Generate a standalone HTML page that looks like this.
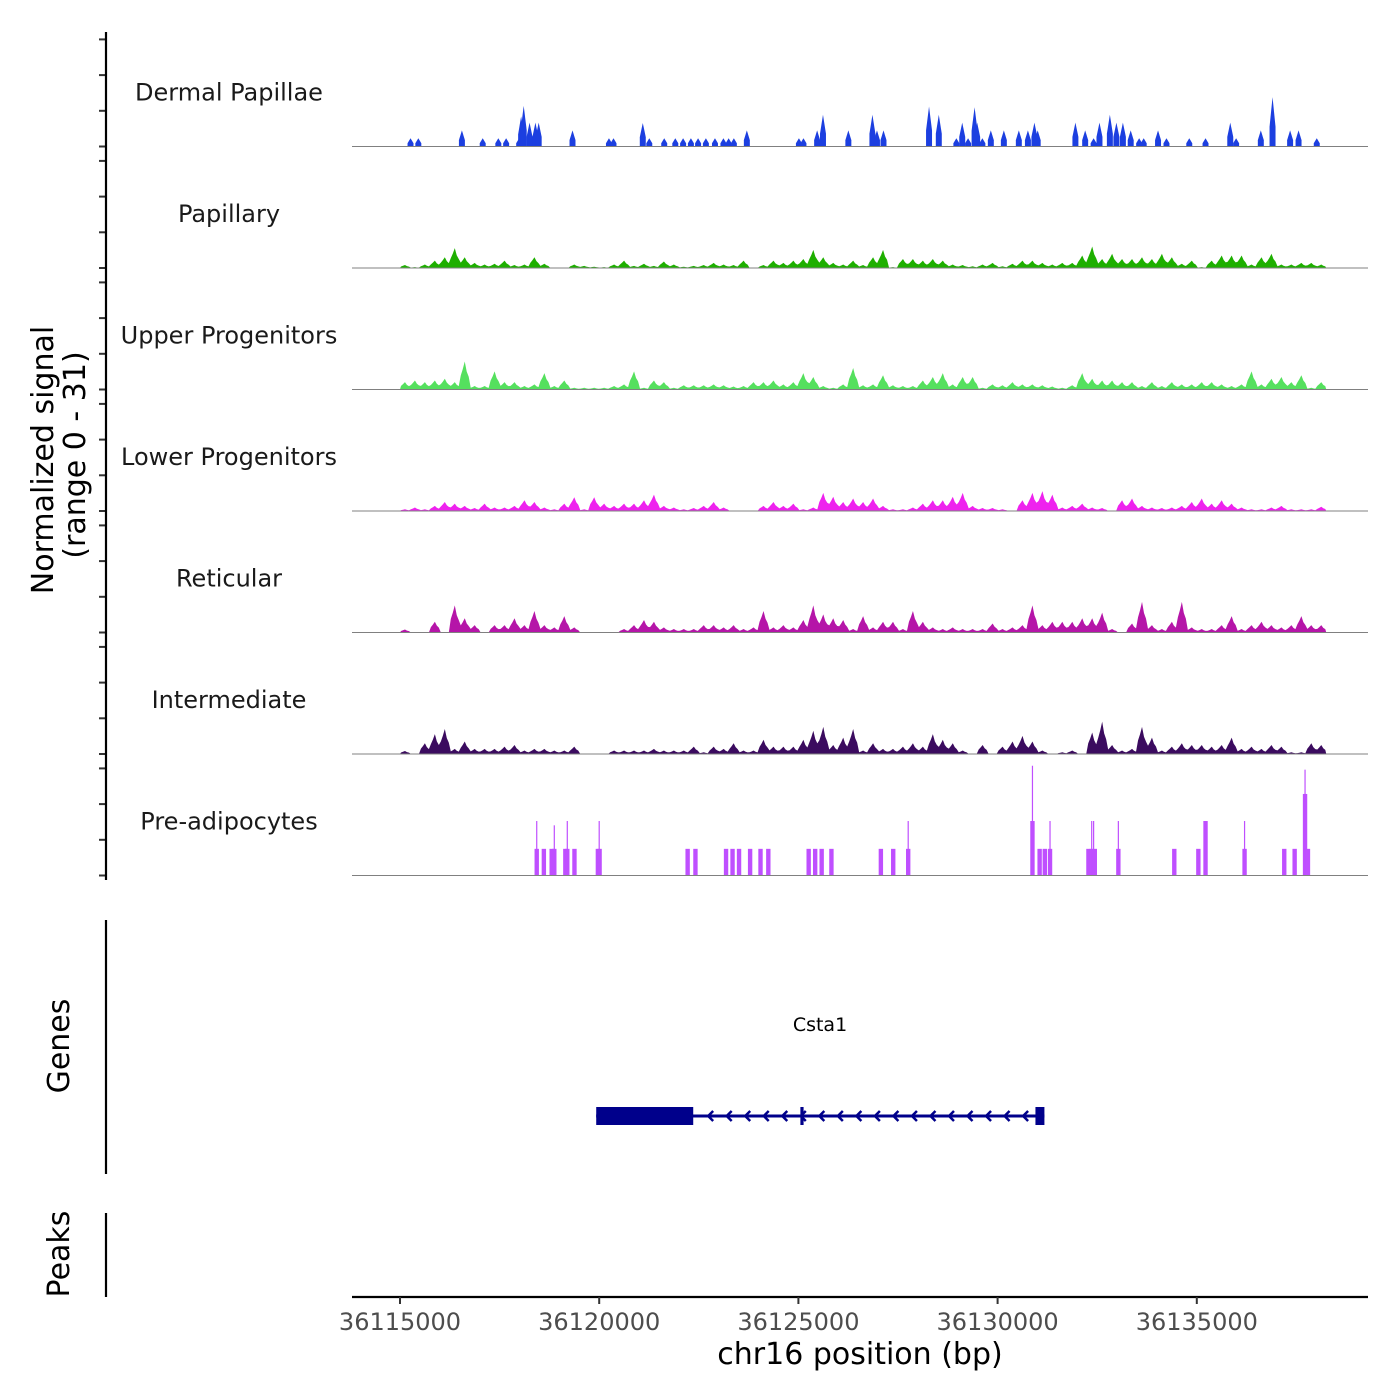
<!DOCTYPE html>
<html><head><meta charset="utf-8">
<style>
html,body{margin:0;padding:0;background:#fff;}
svg{display:block;font-family:"DejaVu Sans","Liberation Sans",sans-serif;}
</style></head>
<body>
<svg id="chart" width="1400" height="1400" viewBox="0 0 1400 1400" xmlns="http://www.w3.org/2000/svg">
<g id="tracks"></g>
<g id="axes">
  <line x1="106" y1="32" x2="106" y2="880" stroke="#000" stroke-width="2.2"/>
  <text transform="translate(53,460) rotate(-90)" text-anchor="middle" font-size="30" fill="#000">Normalized signal</text>
  <text transform="translate(85,455) rotate(-90)" text-anchor="middle" font-size="30" fill="#000">(range 0 - 31)</text>
  <line x1="106" y1="920" x2="106" y2="1174" stroke="#000" stroke-width="2.2"/>
  <text transform="translate(69,1046) rotate(-90)" text-anchor="middle" font-size="30" fill="#000">Genes</text>
  <line x1="106" y1="1213" x2="106" y2="1297" stroke="#000" stroke-width="2.2"/>
  <text transform="translate(69,1254) rotate(-90)" text-anchor="middle" font-size="30" fill="#000">Peaks</text>
  <line x1="352" y1="1297" x2="1368" y2="1297" stroke="#000" stroke-width="2.2"/>
  <text x="860" y="1364" text-anchor="middle" font-size="30" fill="#000">chr16 position (bp)</text>
</g>
<g id="genes"></g>
</svg>
<script>
const NS = "http://www.w3.org/2000/svg";
// ---- data ----
const binStart = 36115000;
const binSize = 250;
const trackNames = ["Dermal Papillae","Papillary","Upper Progenitors","Lower Progenitors","Reticular","Intermediate","Pre-adipocytes"];
const trackColors = ["#1c3fe0","#1eaf00","#55e05e","#ee22ee","#b515a8","#3b0b5f","#bf4fff"];
const xTicks = [36115000,36120000,36125000,36130000,36135000];
const dpPeaks = [[36115264,2.1],[36115460,2.1],[36116554,4.1],[36117076,2.1],[36117468,2.1],[36117664,2.1],[36117991,2.1],[36118040,7.7],[36118105,10.4],[36118252,6.1],[36118399,6.1],[36118481,6.1],[36119330,4.1],[36120245,2.1],[36120359,2.1],[36121094,6.0],[36121257,2.1],[36121632,2.1],[36121910,2.1],[36122106,2.1],[36122302,2.1],[36122482,2.1],[36122678,2.1],[36122906,2.1],[36123118,2.1],[36123249,2.1],[36123380,2.1],[36123706,4.1],[36125013,2.1],[36125127,2.1],[36125470,4.1],[36125617,8.1],[36126254,4.1],[36126858,8.1],[36126972,4.1],[36127136,4.1],[36128279,10.2],[36128524,8.1],[36128965,2.1],[36129112,6.1],[36129259,2.1],[36129422,10.0],[36129487,6.1],[36129618,2.1],[36129830,4.1],[36130157,4.1],[36130533,4.1],[36130761,4.1],[36130924,6.1],[36131006,4.1],[36131953,6.1],[36132198,4.1],[36132410,2.1],[36132557,6.1],[36132818,8.1],[36132982,6.1],[36133145,6.1],[36133341,4.1],[36133553,2.1],[36133667,2.1],[36134027,4.1],[36134239,2.1],[36134811,2.1],[36135219,2.1],[36135840,6.1],[36135987,2.1],[36136607,4.1],[36136901,12.6],[36137342,4.1],[36137554,4.1],[36138011,2.1]];
const papillary = [0.7,0.2,0.8,1.7,2.5,4.6,2.5,1.2,0.8,1,1.7,0.7,0.8,2.5,1,0,0,0.8,0.5,0.3,0.2,0.8,1.7,0.5,1,0.5,1.5,0.8,0.3,0.5,0.7,1.2,0.8,0.7,1.7,0,0.7,1.7,1.2,1.7,2.1,4.2,2.5,1.2,0.8,1.7,0.7,2.5,4.2,0.2,2.1,2.1,1.7,2.1,1.7,0.8,0.7,0.4,0.8,1.2,0.4,1,1.7,1.7,1.2,0.8,1.2,1.2,2.9,5,2.1,3.3,2.1,2.1,2.5,2.1,3.3,2.5,1,1.7,0.2,1.7,2.9,2.9,2.9,0.8,2.5,3.3,0.8,0.8,1.2,1.2,0.8];
const upperProg = [1.7,2.1,1.7,2.1,2.5,1.7,6.5,0.8,0.8,4.2,1.7,1.7,0.8,1.2,3.8,0.8,2.1,0.4,0.4,0.4,0.4,0.8,1.2,4.2,0.4,2.1,1.7,0.4,1,1,1,1.2,1,0.7,0.8,1.7,1.7,2.1,1.2,1.7,3.8,2.9,0.8,0.4,1.2,5,1,1.2,3.3,1,0.8,0.8,2.1,2.9,3.8,1.2,2.9,2.9,0.4,1.2,1,1.7,1.2,1.2,1,0.7,0.4,1,3.8,2.5,2.1,2.1,1.7,1.7,0.8,1.7,0.8,1.7,1.2,1.2,1.7,1.7,1.2,0.8,1.2,4.2,1.2,2.5,2.9,1.7,3.3,0.4,1.7];
const lowerProg = [0.4,0.8,0.4,1.2,2.1,1.7,1.2,0.7,1.7,0.8,0.8,1.2,2.5,2.1,0.8,0.4,1.7,3.2,0.4,3.2,1.7,1.2,1.7,1.7,2.5,3.8,1.2,0.8,0.4,0.7,1.2,2.1,0.8,0,0,0,1.2,2.1,1.2,1.7,0.4,0.8,4.2,3.3,2.1,2.9,2.1,2.9,1.2,0.4,0.4,0.8,1.7,2.5,2.5,3.3,4.2,1.2,0.7,0.7,0.4,0,2.5,4.2,4.6,3.8,0.8,1.2,1.7,0.8,0.7,0,2.5,2.9,1.2,0.8,0.7,0.8,1.2,2.1,2.9,1.7,2.5,1.7,0.8,0.4,0.4,0.8,1.2,0.4,0.4,0.4,1];
const reticular = [0.7,0,0,2.5,0,6.3,3.3,1.7,0,1.7,1.7,3.3,1.7,5,1.7,1.2,3.8,1.2,0,0,0,0,0.8,1.7,2.9,2.5,1.2,0.8,0.8,0.8,1.7,1.7,1.2,1.7,0.8,1.2,5,1.2,1.7,1.2,2.9,6.3,4.2,3.3,2.9,0.8,3.8,1.2,2.5,2.5,0.8,5,2.5,1.2,0.8,1.2,0.8,0.8,0.8,2.1,0.8,1.2,1.7,6.3,1.7,2.5,2.5,2.5,3.3,3.3,4.6,0.8,0,2.1,7.1,1.7,0.8,2.5,7.1,1.2,0.8,0.8,1.7,3.8,0.8,1.7,2.5,1.7,1.2,1.7,3.8,1.7,1.7];
const intermediate = [0.7,0,2.5,4.6,5.8,1.2,2.9,1.2,1.2,1.2,1.7,2.1,0.8,1.2,1.2,0.8,0.8,1.7,0,0,0,0.8,0.8,0.8,0.8,1.2,0.8,0.8,0.8,1.7,0.4,1.7,1.2,2.5,0.8,0.8,3.3,1.7,1.7,1.7,3.3,5.4,6.3,2.1,3.8,5.8,0.8,2.5,1.2,1.2,1.7,2.5,1.7,4.6,3.3,2.5,0.8,0,2.1,0,1.7,2.9,4.2,2.9,0.8,0,0.4,0.8,0,5,7.5,2.1,0.8,1.2,6.3,3.8,0.8,1.7,2.5,2.1,2.1,1.7,2.1,3.8,1.2,1.7,1.2,2.1,1.7,0.4,0.4,2.5,2.1];
const preBlocks = [[36118432,6.8],[36118611,6.8],[36118807,6.8],[36118873,6.8],[36119150,6.8],[36119199,6.8],[36119379,6.8],[36119967,6.8],[36120010,6.8],[36122220,6.8],[36122416,6.8],[36123184,6.8],[36123347,6.8],[36123510,6.8],[36123788,6.8],[36124049,6.8],[36124245,6.8],[36125258,6.8],[36125421,6.8],[36125584,6.8],[36125829,6.8],[36127070,6.8],[36127380,6.8],[36127756,6.8],[36130875,13.9],[36131055,6.8],[36131185,6.8],[36131316,6.8],[36132280,6.8],[36132362,6.8],[36132440,6.8],[36133031,6.8],[36134435,6.8],[36135039,6.8],[36135219,13.9],[36136199,6.8],[36137195,6.8],[36137456,6.8],[36137717,20.8],[36137790,6.8]];
const preSpikes = [[36118432,13.9],[36118873,12.8],[36119199,13.9],[36120000,13.9],[36127756,13.9],[36130875,28],[36131316,13.9],[36132362,13.9],[36132410,13.9],[36133031,13.9],[36136199,13.9],[36137717,27]];
const geneName = "Csta1";
const geneStart = 36119925, geneEnd = 36131175;
const geneExons = [[36119925,36122360],[36125050,36125130],[36130950,36131175]];

// ---- scales ----
const X0 = 36115000, PX0 = 400, PXPERBP = 199.2/5000;
const xs = bp => PX0 + (bp - X0) * PXPERBP;
const baselines = [146.5,268,389.5,511,632.5,754,875.5];
const UNIT = 3.92;
const ys = (t, v) => baselines[t] - v * UNIT;

const tracks = document.getElementById('tracks');
function mk(tag, attrs, parent){ const e=document.createElementNS(NS,tag); for(const k in attrs) e.setAttribute(k,attrs[k]); (parent||tracks).appendChild(e); return e; }

for (let t=0;t<7;t++){
  for (let k=0;k<4;k++){
    const y = baselines[t] - k*35.7;
    const tk = mk('line',{x1:99,x2:106,y1:y,y2:y,stroke:'#333','stroke-width':2});
    
    
  }
}

function binnedArea(t, vals){
  let d = `M${xs(binStart)},${baselines[t]}`;
  vals.forEach((v,i)=>{
    const xa = xs(binStart + i*binSize), xb = xs(binStart + (i+1)*binSize);
    d += ` L${xa+1},${ys(t,v*0.55)} L${xa+3},${ys(t,v*0.8)} L${(xa+xb)/2},${ys(t,v*1.1)} L${xb-3},${ys(t,v*0.7)} L${xb-1},${ys(t,v*0.5)}`;
  });
  d += ` L${xs(binStart + vals.length*binSize)},${baselines[t]} Z`;
  const p = mk('path',{d, fill:trackColors[t]});
  
  
}
function blocks(t, list, w, name){
  list.forEach(([bp,v])=>{
    const r = mk('rect',{x:xs(bp - w/2), y:ys(t,v), width:Math.max(1,w*PXPERBP), height:v*UNIT, fill:trackColors[t]});
    
    
  });
}
function spikes(t, list, w, name){
  list.forEach(([bp,v])=>{
    const x = xs(bp), hw = w*PXPERBP/2, b = baselines[t];
    const p = mk('path',{d:`M${x-hw},${b} L${x-hw},${ys(t,v*0.4)} L${x},${ys(t,v)} L${x+hw},${ys(t,v*0.4)} L${x+hw},${b} Z`, fill:trackColors[t]});
    
    
  });
}

trackNames.forEach((n,t)=>{
  const lbl = mk('text',{x:229,y:baselines[t]-46,'text-anchor':'middle','font-size':24,fill:'#1a1a1a'});
  lbl.textContent = n;
  
  
});

spikes(0, dpPeaks, 150, 'dp-peak');
[papillary,upperProg,lowerProg,reticular,intermediate].forEach((a,i)=>binnedArea(i+1,a));
blocks(6, preBlocks, 110, 'preadipocyte-block');
blocks(6, preSpikes, 30, 'preadipocyte-spike');

baselines.forEach((b,t)=>{
  const l = mk('line',{x1:352,x2:1368,y1:b,y2:b,stroke:'#808080','stroke-width':1.1});
  
  
});

const axes = document.getElementById('axes');
xTicks.forEach(v=>{
  const x = xs(v);
  const tk = mk('line',{x1:x,x2:x,y1:1297,y2:1304,stroke:'#333','stroke-width':2},axes);
  
  
  const tl = mk('text',{x:x,y:1330,'text-anchor':'middle','font-size':24,fill:'#4d4d4d'},axes);
  tl.textContent = v;
  
  
});

const g = document.getElementById('genes');
const gy = 1116;
const gl = mk('line',{x1:xs(geneStart),x2:xs(geneEnd),y1:gy,y2:gy,stroke:'#00008b','stroke-width':3},g);


geneExons.forEach(([s,e])=>{
  const r = mk('rect',{x:xs(s),y:gy-9,width:Math.max(3,xs(e)-xs(s)),height:18,fill:'#00008b'},g);
  
  
});
for (let bp = geneExons[0][1] + 400; bp < geneExons[2][0] - 100; bp += 465){
  const x = xs(bp);
  const c = mk('path',{d:`M${x+4},${gy-5} L${x-1},${gy} L${x+4},${gy+5}`,fill:'none',stroke:'#00008b','stroke-width':2.5},g);
  
  
}
const gt = mk('text',{x:820,y:1031,'text-anchor':'middle','font-size':19,fill:'#000'},g);
gt.textContent = geneName;


</script>
</body></html>
